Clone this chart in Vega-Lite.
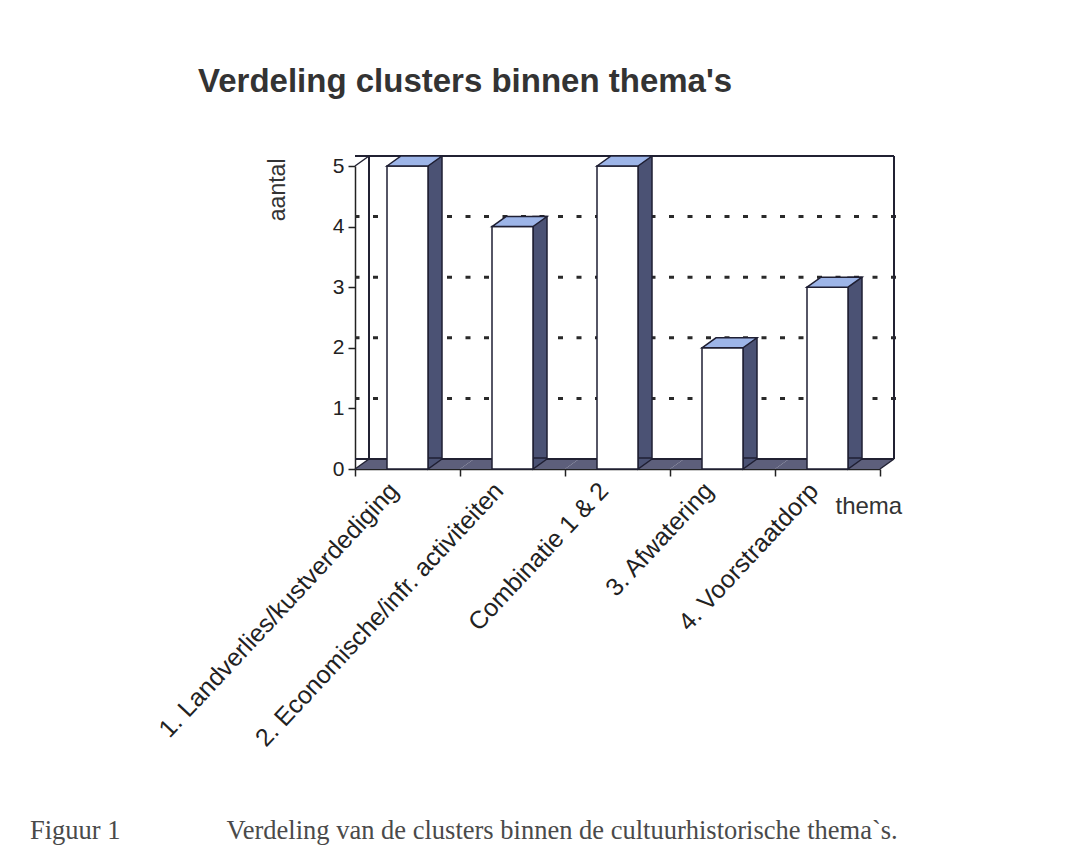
{
  "$schema": "https://vega.github.io/schema/vega-lite/v6.json",
  "background": "white",
  "padding": {"left": 30, "top": 66, "right": 10, "bottom": 10},
  "autosize": {"type": "pad"},
  "config": {"view": {"stroke": null}, "font": "Liberation Sans"},
  "title": {
    "text": "Figuur 1\u00a0\u00a0\u00a0\u00a0\u00a0\u00a0\u00a0\u00a0\u00a0\u00a0\u00a0\u00a0\u00a0\u00a0\u00a0\u00a0Verdeling van de clusters binnen de cultuurhistorische thema`s.",
    "orient": "bottom",
    "anchor": "start",
    "frame": "group",
    "dx": -325,
    "font": "Liberation Serif",
    "fontSize": 26.5,
    "fontWeight": "normal",
    "color": "#4a4a4a",
    "offset": 67
  },
  "vconcat": [
    {
      "width": 525,
      "height": 303,
      "title": {
        "text": "Verdeling clusters binnen thema's",
        "anchor": "start",
        "frame": "group",
        "dx": -157,
        "fontSize": 33,
        "fontWeight": "bold",
        "color": "#333333",
        "offset": 54
      },
      "data": {
        "values": [
          {"thema": "1. Landverlies/kustverdediging", "aantal": 5},
          {"thema": "2. Economische/infr. activiteiten", "aantal": 4},
          {"thema": "Combinatie 1 & 2", "aantal": 5},
          {"thema": "3. Afwatering", "aantal": 2},
          {"thema": "4. Voorstraatdorp", "aantal": 3}
        ]
      },
      "encoding": {
        "x": {
          "field": "thema",
          "type": "nominal",
          "sort": null,
          "scale": {
            "domain": ["1. Landverlies/kustverdediging", "2. Economische/infr. activiteiten", "Combinatie 1 & 2", "3. Afwatering", "4. Voorstraatdorp"],
            "paddingInner": 0,
            "paddingOuter": 0
          },
          "axis": {
            "title": "thema",
            "titleX": 480,
            "titleY": 44,
            "titleAlign": "left",
            "titleBaseline": "alphabetic",
            "titleFontSize": 24,
            "titleFontWeight": "normal",
            "titleColor": "#333333",
            "labelAngle": -47,
            "labelFontSize": 25,
            "labelColor": "#222222",
            "labelPadding": 10,
            "labelOffset": -14,
            "labelLimit": 500,
            "tickBand": "extent",
            "tickSize": 7,
            "tickWidth": 1.5,
            "tickColor": "#222222",
            "domainColor": "#222222",
            "domainWidth": 1.5
          }
        },
        "y": {
          "field": "aantal",
          "type": "quantitative",
          "scale": {"domain": [0, 5], "nice": false},
          "axis": {
            "title": "aantal",
            "values": [0, 1, 2, 3, 4, 5],
            "grid": false,
            "titleAngle": -90,
            "titleAlign": "right",
            "titleBaseline": "bottom",
            "titleX": -66,
            "titleY": -8,
            "titleFontSize": 23,
            "titleFontWeight": "normal",
            "titleColor": "#333333",
            "labelFontSize": 21,
            "labelColor": "#222222",
            "labelPadding": 4,
            "tickSize": 7,
            "tickWidth": 1.5,
            "tickColor": "#222222",
            "domainColor": "#222222",
            "domainWidth": 1.5
          }
        }
      },
      "layer": [
        {
          "data": {"values": [{"g": 1}, {"g": 2}, {"g": 3}, {"g": 4}]},
          "mark": {"type": "rule", "stroke": "#2a2a2a", "strokeWidth": 3, "strokeDash": [5, 13.5], "yOffset": -10, "xOffset": 16, "x2Offset": 14},
          "encoding": {"x": null, "y": {"field": "g", "type": "quantitative"}}
        },
        {
          "mark": {"type": "rule", "stroke": "#222233", "strokeWidth": 1.5, "yOffset": -10, "xOffset": 14, "x2Offset": 14},
          "encoding": {"x": null, "y": {"datum": 5}}
        },
        {
          "mark": {"type": "rule", "stroke": "#222233", "strokeWidth": 1.5, "xOffset": 14, "yOffset": -10, "y2Offset": -10},
          "encoding": {
            "x": {"datum": "1. Landverlies/kustverdediging", "bandPosition": 0},
            "y": {"datum": 5},
            "y2": {"datum": 0}
          }
        },
        {
          "mark": {"type": "rule", "stroke": "#222233", "strokeWidth": 1.5, "xOffset": 14, "yOffset": -10, "y2Offset": -10},
          "encoding": {
            "x": {"datum": "4. Voorstraatdorp", "bandPosition": 1},
            "y": {"datum": 5},
            "y2": {"datum": 0}
          }
        },
        {
          "mark": {"type": "point", "shape": "M -52.5 0 L -38.5 -10 L 66.5 -10 L 52.5 0 Z", "size": 4, "filled": true, "fill": "#5d5f7b", "stroke": null, "opacity": 1},
          "encoding": {"y": {"datum": 0}}
        },
        {
          "mark": {"type": "rule", "stroke": "#222233", "strokeWidth": 1.5, "yOffset": -10, "xOffset": 14, "x2Offset": 14},
          "encoding": {"x": null, "y": {"datum": 0}}
        },
        {
          "transform": [{"filter": "datum.thema == '1. Landverlies/kustverdediging'"}],
          "mark": {"type": "point", "shape": "M -52.5 0 L -38.5 -10", "size": 4, "filled": false, "stroke": "#222233", "strokeWidth": 1.5, "opacity": 1},
          "encoding": {"y": {"datum": 5}}
        },
        {
          "transform": [{"filter": "datum.thema == '1. Landverlies/kustverdediging'"}],
          "mark": {"type": "point", "shape": "M -52.5 0 L -38.5 -10", "size": 4, "filled": false, "stroke": "#222233", "strokeWidth": 1.5, "opacity": 1},
          "encoding": {"y": {"datum": 0}}
        },
        {
          "transform": [{"filter": "datum.thema == '4. Voorstraatdorp'"}],
          "mark": {"type": "point", "shape": "M 52.5 0 L 66.5 -10", "size": 4, "filled": false, "stroke": "#222233", "strokeWidth": 1.5, "opacity": 1},
          "encoding": {"y": {"datum": 0}}
        },
        {
          "mark": {"type": "bar", "size": 14, "xOffset": 27.5, "yOffset": -10, "y2Offset": -10, "fill": "#4b5274", "stroke": "#1f1f33", "strokeWidth": 1.5},
          "encoding": {"y2": {"datum": 0}}
        },
        {
          "mark": {"type": "point", "shape": "M 34.5 -10 L 20.5 0 L 20.5 -11 L 34.5 -11", "size": 4, "filled": true, "fill": "#4b5274", "stroke": "#1f1f33", "strokeWidth": 1.5, "opacity": 1},
          "encoding": {"y": {"datum": 0}}
        },
        {
          "mark": {"type": "bar", "size": 41, "fill": "#ffffff", "stroke": "#1f1f33", "strokeWidth": 1.5},
          "encoding": {"y2": {"datum": 0}}
        },
        {
          "mark": {"type": "point", "shape": "M -20.5 0 L -6.5 -10 L 34.5 -10 L 20.5 0 Z", "size": 4, "filled": true, "fill": "#9db5e8", "stroke": "#1f1f33", "strokeWidth": 1.5, "opacity": 1},
          "encoding": {}
        }
      ]
    }
  ]
}
